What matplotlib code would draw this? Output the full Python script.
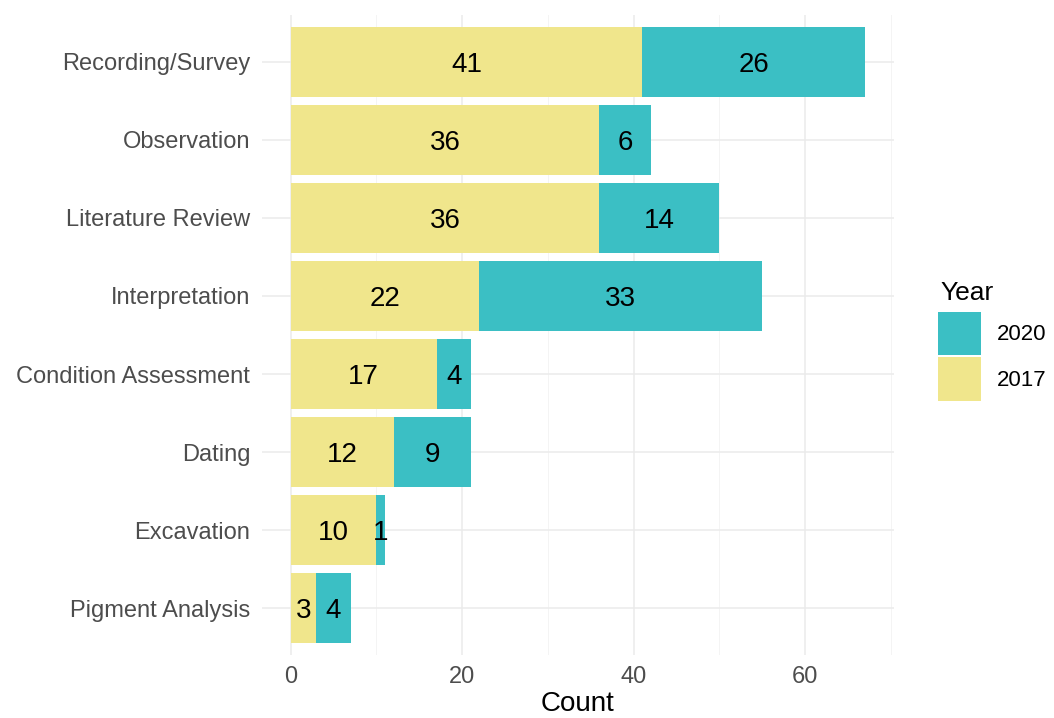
import matplotlib.pyplot as plt
from matplotlib.patches import Patch
from matplotlib.ticker import MultipleLocator

plt.rcParams['font.family'] = ['Liberation Sans', 'DejaVu Sans']

categories = ['Recording/Survey', 'Observation', 'Literature Review', 'Interpretation',
              'Condition Assessment', 'Dating', 'Excavation', 'Pigment Analysis']
count_2017 = [41, 36, 36, 22, 17, 12, 10, 3]
count_2020 = [26, 6, 14, 33, 4, 9, 1, 4]

col_2017 = '#F0E68C'
col_2020 = '#3BBFC4'

fig = plt.figure(figsize=(10.54, 7.18), dpi=100)
ax = fig.add_axes([262 / 1054, 1 - 655 / 718, (894 - 262) / 1054, (655 - 15) / 718])

# top category first, like ggplot's reversed factor
ypos = list(range(len(categories), 0, -1))

ax.barh(ypos, count_2017, height=0.9, color=col_2017, zorder=2)
ax.barh(ypos, count_2020, left=count_2017, height=0.9, color=col_2020, zorder=2)

for y, a, b in zip(ypos, count_2017, count_2020):
    ax.text(a / 2, y, str(a), ha='center', va='center_baseline', fontsize=20, color='black', zorder=3)
    ax.text(a + b / 2, y, str(b), ha='center', va='center_baseline', fontsize=20, color='black', zorder=3)

totals = [a + b for a, b in zip(count_2017, count_2020)]
xmax = max(totals)
ax.set_xlim(-0.05 * xmax, xmax * 1.05)
ax.set_ylim(0.4, len(categories) + 0.6)

ax.set_yticks(ypos)
ax.set_yticklabels(categories)
ax.xaxis.set_major_locator(MultipleLocator(20))
ax.xaxis.set_minor_locator(MultipleLocator(10))

ax.grid(True, which='major', color='#EBEBEB', linewidth=1.1, zorder=0)
ax.grid(True, which='minor', axis='x', color='#F2F2F2', linewidth=0.6, zorder=0)
ax.set_axisbelow(True)
for s in ax.spines.values():
    s.set_visible(False)
ax.tick_params(which='both', length=0, labelsize=17, labelcolor='#4D4D4D')
ax.tick_params(axis='y', pad=8.5)
ax.tick_params(axis='x', pad=8)

fig.text(578 / 1054, 1 - 711 / 718, 'Count', ha='center', va='baseline', fontsize=20)

# legend title drawn separately so the gap to the keys can be set freely
fig.text(940 / 1054, 1 - 300 / 718, 'Year', ha='left', va='baseline', fontsize=19)
handles = [Patch(facecolor=col_2020, label='2020'), Patch(facecolor=col_2017, label='2017')]
leg = fig.legend(handles=handles, loc='upper left',
                 bbox_to_anchor=(938 / 1054, 1 - 312 / 718), frameon=False,
                 borderpad=0, borderaxespad=0,
                 fontsize=16, handlelength=1.94, handleheight=2.61,
                 labelspacing=0.1, handletextpad=0.7)

fig.savefig('out.png', dpi=100, facecolor='white')
